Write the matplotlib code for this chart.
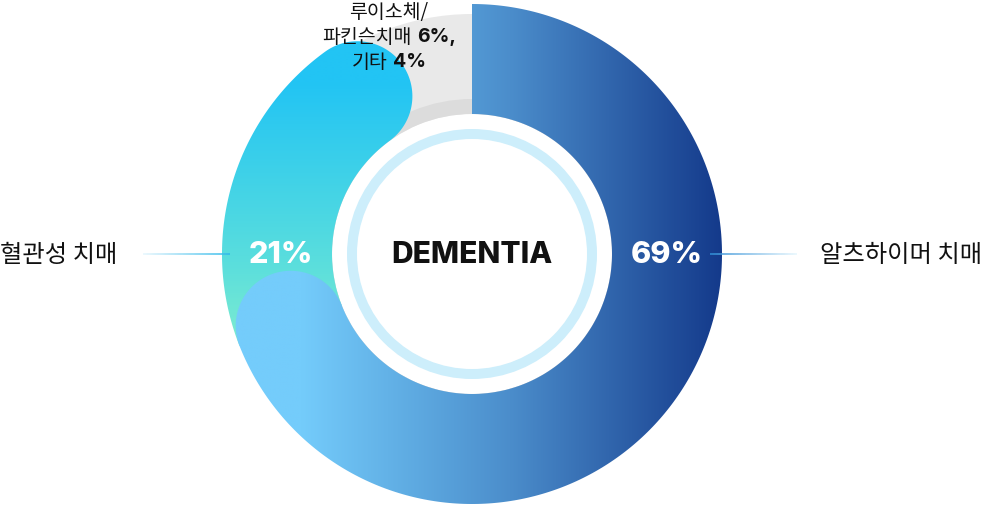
import numpy as np
import matplotlib
matplotlib.use('Agg')
import matplotlib.pyplot as plt
from matplotlib.path import Path
from matplotlib.patches import PathPatch, Wedge, Circle
from matplotlib.colors import LinearSegmentedColormap
from matplotlib.collections import LineCollection

# 데이터
categories = ['알츠하이머 치매', '혈관성 치매', '루이소체/파킨슨치매, 기타']
shares = [69, 21, 10]
other_names = ['루이소체/파킨슨치매', '기타']
other_shares = [6, 4]
center_label = 'DEMENTIA'

KR = ['Noto Sans CJK KR', 'DejaVu Sans']
LAT = ['Inter', 'Noto Sans CJK KR', 'DejaVu Sans']

W, H = 985, 506
CX, CY = 472, 251
R_OUT, R_IN = 250, 140
R_MID = (R_OUT + R_IN) / 2

fig = plt.figure(figsize=(W / 100, H / 100), dpi=100)
ax = fig.add_axes([0, 0, 1, 1])
ax.set_xlim(0, W)
ax.set_ylim(0, H)
ax.axis('off')


def ring_path(t1, t2, r_in, r_out, round_end=True, n=300):
    """t1 -> t2 시계방향 링 조각, 끝은 둥글게."""
    ts = np.radians(np.linspace(t1, t2, n))
    outer = np.column_stack([CX + r_out * np.cos(ts), CY + r_out * np.sin(ts)])
    inner = np.column_stack([CX + r_in * np.cos(ts[::-1]), CY + r_in * np.sin(ts[::-1])])
    parts = [outer]
    if round_end:
        t = ts[-1]
        w = (r_out - r_in) / 2
        c = np.array([CX + R_MID * np.cos(t), CY + R_MID * np.sin(t)])
        u = np.array([np.cos(t), np.sin(t)])
        f = np.array([np.sin(t), -np.cos(t)])
        phi = np.linspace(0, np.pi, 80)
        parts.append(c + w * (np.outer(np.cos(phi), u) + np.outer(np.sin(phi), f)))
    parts.append(inner)
    verts = np.vstack(parts + [outer[:1]])
    codes = [Path.MOVETO] + [Path.LINETO] * (len(verts) - 2) + [Path.CLOSEPOLY]
    return Path(verts, codes)


def gradient_fill(path, arr, extent, cmap, z):
    patch = PathPatch(path, facecolor='none', edgecolor='none')
    ax.add_patch(patch)
    im = ax.imshow(arr, extent=extent, origin='lower', cmap=cmap, vmin=0, vmax=1,
                   aspect='auto', interpolation='bilinear', zorder=z)
    im.set_clip_path(patch)


# 각도 (12시 방향에서 시계방향)
bounds = 90 - 360 * np.concatenate([[0], np.cumsum(shares)]) / 100

# 회색 배경 링
ax.add_patch(Wedge((CX, CY), 240, 0, 360, width=240 - R_IN, facecolor='#e9e9e9', edgecolor='none', zorder=1))
ax.add_patch(Wedge((CX, CY), 155, 0, 360, width=15, facecolor='#dcdcdc', edgecolor='none', zorder=1))

# 혈관성 치매 (세로 그라데이션)
green_cmap = LinearSegmentedColormap.from_list('g', ['#a8fcc0', '#5adedd', '#22c4f4'])
ys = np.linspace(0, H, 400)
gv = np.clip((ys - (H - 445)) / (445 - 82), 0, 1)
gradient_fill(ring_path(bounds[1], bounds[2], R_IN, R_OUT),
              np.tile(gv[:, None], (1, 2)), [0, W, 0, H], green_cmap, 2)

# 알츠하이머 치매 (가로 그라데이션)
blue_cmap = LinearSegmentedColormap.from_list('b', ['#74ccfb', '#4b8dcb', '#143a8b'])
xs = np.linspace(0, W, 600)
bv = np.clip((xs - 300) / (722 - 300), 0, 1)
gradient_fill(ring_path(bounds[0], bounds[1], R_IN, R_OUT),
              np.tile(bv[None, :], (2, 1)), [0, W, 0, H], blue_cmap, 3)

# 안쪽 하늘색 링
ax.add_patch(Circle((CX, CY), 120, facecolor='none', edgecolor='#cdeefb', linewidth=7.2, zorder=4))

ax.text(CX, CY, center_label, ha='center', va='center', fontsize=21.5, fontweight='heavy',
        family=LAT, color='#111111', zorder=5)

# 퍼센트 라벨
ax.text(CX + R_MID, CY, f'{shares[0]}%', ha='center', va='center', fontsize=22,
        fontweight='heavy', family=LAT, color='white', zorder=5)
ax.text(CX - R_MID + 4, CY, f'{shares[1]}%', ha='center', va='center', fontsize=22,
        fontweight='heavy', family=LAT, color='white', zorder=5)


def gradient_line(x0, x1, y, c0, c1, z=4):
    xx = np.linspace(x0, x1, 80)
    segs = [[(xx[i], y), (xx[i + 1], y)] for i in range(len(xx) - 1)]
    cm = LinearSegmentedColormap.from_list('l', [c0, c1])
    lc = LineCollection(segs, colors=cm(np.linspace(0, 1, len(segs))), linewidths=1.1, zorder=z)
    ax.add_collection(lc)


gradient_line(710, 797, CY, '#2f8ed6', '#e6f6fd')
gradient_line(143, 230, CY, '#e6f6fd', '#2fb9ea')

ax.text(820, CY, categories[0], ha='left', va='center', fontsize=17.5, fontweight='medium',
        family=KR, color='#111111', zorder=5)
ax.text(0, CY, categories[1], ha='left', va='center', fontsize=17.5, fontweight='medium',
        family=KR, color='#111111', zorder=5)

# 위쪽 라벨 (굵기 섞인 텍스트)
renderer = fig.canvas.get_renderer()


def rich_line(xc, y, pieces, size=14, gap=5):
    texts = []
    for s, w in pieces:
        fam = LAT if w == 'bold' else KR
        texts.append(ax.text(0, y, s, ha='left', va='center', fontsize=size, fontweight=w,
                             family=fam, color='#111111', zorder=5))
    widths = [t.get_window_extent(renderer).width for t in texts]
    total = sum(widths) + gap * (len(texts) - 1)
    x = xc - total / 2
    for t, wd in zip(texts, widths):
        t.set_x(x)
        x += wd + gap


rich_line(389, H - 12, [(other_names[0].split('/')[0] + '/', 'medium')])
rich_line(389, H - 37, [(other_names[0].split('/')[1], 'medium'), (f'{other_shares[0]}%,', 'bold')])
rich_line(389, H - 62, [(other_names[1], 'medium'), (f'{other_shares[1]}%', 'bold')])

fig.savefig('out.png', dpi=100)
